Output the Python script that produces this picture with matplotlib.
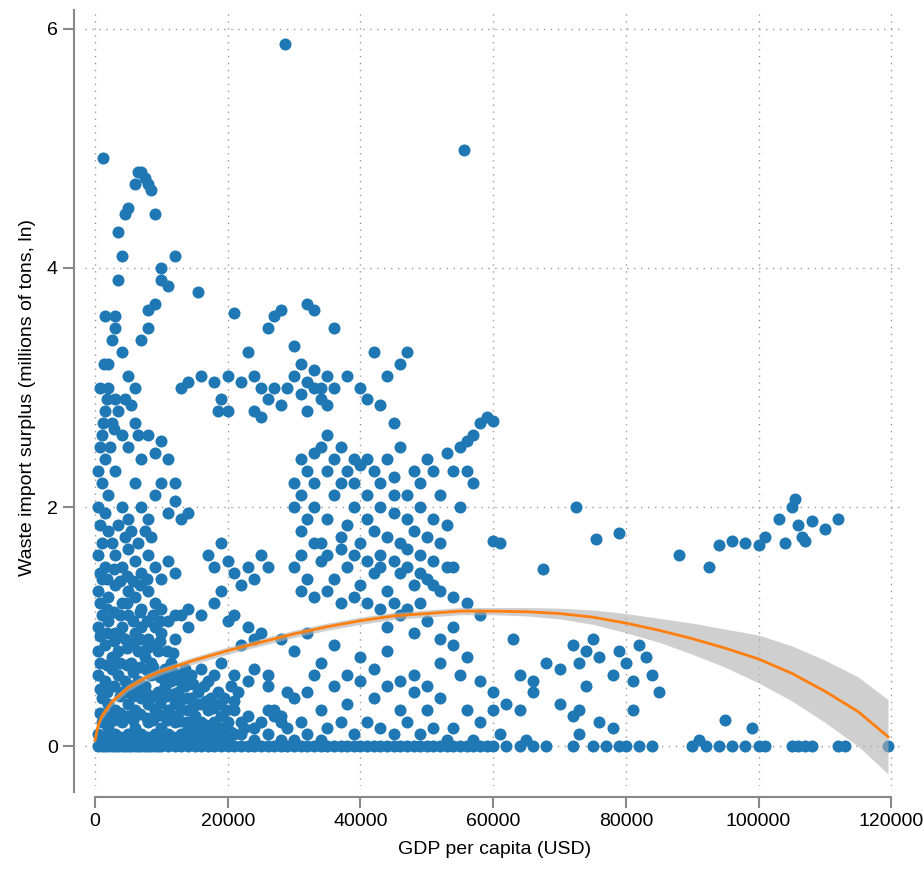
import numpy as np
import matplotlib.pyplot as plt

plt.rcParams['font.family'] = ['Liberation Sans', 'DejaVu Sans']

# points: "gdp_thousands:surplus" pairs
pts_low = """
0.5:0 1:0 1.5:0 2:0 2.5:0 3:0 3.5:0 4:0 4.5:0 5:0 5.5:0 6:0 6.5:0 7:0 7.5:0 8:0 8.5:0 9:0 9.5:0 10:0
11:0 12:0 13:0 14:0 15:0 16:0 17:0 18:0 19:0 20:0 21:0 22:0 23:0 24:0 25:0 26:0 27:0 28:0 29:0 30:0
31:0 32:0 33:0 34:0 35:0 36:0 37:0 38:0 39:0 40:0 41:0 42:0 43:0 44:0 45:0 46:0 47:0 48:0 49:0 50:0
51:0 52:0 53:0 54:0 55:0 56:0 57:0 58:0 59:0 60:0 62:0 64:0 66:0 68:0 72:0 75:0 77:0 79:0 80:0 82:0
84:0 90:0 92:0 94:0 96:0 98:0 100:0 101:0 105:0 106:0 107:0 108:0 112:0 113:0 119.5:0
0.5:0.1 1:0.2 2:0.15 3:0.1 4:0.2 5:0.1 6:0.15 7:0.1 8:0.2 9:0.1 10:0.15 11:0.1 12:0.2 13:0.1 14:0.15
15:0.1 16:0.05 17:0.1 18:0.05 19:0.1 20:0.05 22:0.1 24:0.05 26:0.1 28:0.05 30:0.05 32:0.1 34:0.05
1:0.4 2:0.35 3:0.3 4:0.45 5:0.35 6:0.3 7:0.4 8:0.35 9:0.3 10:0.4 11:0.3 12:0.35 13:0.3 14:0.3 15:0.25
16:0.2 17:0.3 18:0.2 19:0.25 20:0.2 21:0.3 22:0.2 23:0.25 24:0.15 25:0.2 26:0.3 27:0.25 28:0.2 29:0.15
0.5:0.6 1.5:0.55 2.5:0.65 3.5:0.6 4.5:0.55 5.5:0.5 6.5:0.55 7.5:0.5 8.5:0.6 9.5:0.45 10.5:0.5 11.5:0.55
12.5:0.45 13.5:0.5 14.5:0.4 15.5:0.45 16.5:0.5 17.5:0.4 18.5:0.45 19.5:0.4 20.5:0.5 21.5:0.45
0.5:0.8 1.5:0.85 2.5:0.75 3.5:0.8 4.5:0.9 5.5:0.7 6.5:0.8 7.5:0.75 8.5:0.7 9.5:0.8 10.5:0.65 11.5:0.7
12.5:0.6 13.5:0.65 14.5:0.6 16:0.65 17:0.55 18:0.6 19:0.7 21:0.6 23:0.55 24:0.65 26:0.6
0.5:1.0 1:1.1 2:1.05 3:0.95 4:1.0 5:1.1 6:0.95 7:1.0 8:0.9 9:1.0 10:0.95 11:1.05 12:0.9 13:1.1 14:1.0
0.5:1.3 1:1.4 2:1.25 3:1.35 4:1.2 5:1.3 6:1.25 7:1.15 8:1.3 9:1.2 10:1.15 12:1.1 14:1.15 16:1.1
18:1.2 20:1.05 19:1.3 21:1.1 23:1.0 25:0.95 22:0.85 24:0.9
0.5:1.6 1:1.7 1.5:1.5 2:1.8 3:1.6 4:1.5 5:1.65 6:1.55 7:1.45 8:1.6 9:1.5 10:1.4 11:1.55 12:1.45
17:1.6 18:1.5 19:1.7 20:1.55 21:1.45 22:1.35 23:1.5 24:1.4 25:1.6 26:1.5
"""

pts_dense = """
0.8:0.05 1.8:0.08 2.8:0.05 3.8:0.08 4.8:0.05 5.8:0.08 6.8:0.05 7.8:0.08 8.8:0.05 9.8:0.08 10.8:0.05
11.8:0.08 12.8:0.05 13.8:0.08 14.8:0.05 15.8:0.08 16.8:0.05 17.8:0.08 18.8:0.05 19.8:0.1 21:0.1
0.8:0.28 1.8:0.25 2.8:0.22 3.8:0.28 4.8:0.25 5.8:0.22 6.8:0.27 7.8:0.24 8.8:0.22 9.8:0.26 10.8:0.22
11.8:0.25 12.8:0.21 13.8:0.2 14.8:0.18 15.8:0.15 16.8:0.18 17.8:0.12 18.8:0.15 20.5:0.12 22.5:0.15
0.8:0.48 1.8:0.45 2.8:0.5 3.8:0.42 4.8:0.45 5.8:0.42 6.8:0.47 7.8:0.44 8.8:0.42 9.8:0.36 10.8:0.42
11.8:0.44 12.8:0.38 13.8:0.4 14.8:0.33 15.8:0.35 16.8:0.38 17.8:0.32 18.8:0.35 19.8:0.3 21:0.38
0.8:0.7 1.8:0.68 2.8:0.72 3.8:0.7 4.8:0.68 5.8:0.62 6.8:0.66 7.8:0.64 8.8:0.66 9.8:0.58 10.8:0.58
11.8:0.62 12.8:0.55 13.8:0.56 14.8:0.52 0.8:0.92 1.8:0.95 2.8:0.88 3.8:0.92 4.8:0.82 5.8:0.86
6.8:0.9 7.8:0.82 8.8:0.85 9.8:0.88 10.8:0.8 11.8:0.78 0.8:1.2 1.8:1.15 2.8:1.12 3.8:1.1 4.8:1.2
5.8:1.05 6.8:1.12 7.8:1.05 8.8:1.1 9.8:1.05 0.8:1.45 1.8:1.4 2.8:1.48 3.8:1.38 4.8:1.42 5.8:1.38
6.8:1.35 7.8:1.4 0.8:1.85 1.5:1.95 2.5:1.7 3.5:1.85 4.5:1.75 5.5:1.8 6.5:1.7 7.5:1.8 8.5:1.75
0.5:2.3 0.8:2.5 1.2:2.7 1.8:2.9 2.2:2.5 0.8:3.0 1.3:3.2 2.8:2.65 3.5:2.8 4.5:2.9 5.5:2.85 6.5:2.6
"""

pts_high = """
0.5:2.0 1:2.2 1.5:2.4 2:2.1 3:2.3 4:2.0 5:1.9 6:2.2 7:2.0 8:1.9 9:2.1 10:2.2 11:1.95 12:2.05 13:1.9 14:1.95
1:2.6 1.5:2.8 2:3.0 2.5:2.7 3:2.9 4:2.6 5:2.5 6:2.7 7:2.4 8:2.6 9:2.45 10:2.55 11:2.4 12:2.2
2:3.2 2.5:3.4 3:3.6 4:3.3 5:3.1 6:3.0 7:3.4 8:3.5 9:3.7 10:3.9 11:3.85 12:4.1 10:4.0 8:3.65
1.5:3.6 3:3.5 3.5:3.9 4:4.1 4.5:4.45 5:4.5 3.5:4.3 6:4.7 6.5:4.8 7:4.8 7.5:4.75 8:4.7 8.5:4.65 9:4.45
1.2:4.92 15.5:3.8 13:3.0 14:3.05 16:3.1 18:3.05 20:3.1 22:3.05 24:3.1 21:3.62 23:3.3 25:3.0
26:3.5 27:3.6 28:3.65 26:2.9 27:3.0 28:2.85 29:3.0 30:3.1 31:3.2 32:3.7 33:3.65 30:3.35 31:2.95 32:3.05
33:3.15 34:3.0 35:3.1 36:3.5 38:3.1 40:3.0 42:3.3 44:3.1 46:3.2 47:3.3 45:2.7 43:2.85 41:2.9
18.5:2.8 19:2.9 20:2.8 24:2.8 25:2.75 28.7:5.87 55.6:4.99
30:2.2 31:2.4 32:2.3 33:2.45 34:2.5 35:2.6 36:2.4 37:2.5 38:2.3 39:2.2 40:2.35 41:2.4 42:2.3
43:2.2 44:2.4 45:2.25 46:2.5 47:2.1 48:2.3 49:2.2 50:2.4 51:2.3 52:2.1 53:2.45 54:2.3 55:2.5
56:2.55 57:2.6 58:2.7 59:2.75 60:2.72 56:2.3 57:2.2 55:2.0
30:2.0 31:1.8 32:1.9 33:2.0 34:1.7 35:1.9 36:2.1 37:1.75 38:1.85 39:2.0 40:1.7 41:1.9 42:1.8
43:1.6 44:1.75 45:1.95 46:1.7 47:1.65 48:1.8 49:1.6 50:1.75 51:1.55 52:1.7 53:1.85 54:1.5
30:1.5 32:1.4 34:1.55 36:1.4 38:1.5 40:1.35 42:1.45 44:1.3 46:1.45 48:1.35 50:1.4 52:1.3 54:1.25
56:1.2 58:1.1 60:1.72 61:1.7 72.5:2.0 67.5:1.48 75.5:1.73 79:1.78 88:1.6 92.5:1.5 94:1.68 96:1.72 98:1.7
100:1.68 101:1.75 103:1.9 104:1.7 105:2.0 105.5:2.07 106:1.85 106.5:1.75 107:1.72 108:1.88 110:1.82 112:1.9
31:2.1 33:2.2 35:2.3 37:2.2 39:2.4 41:2.1 43:2.0 45:2.1 47:1.9 49:2.0 51:1.9 31:1.6 33:1.7 35:1.6
37:1.65 39:1.6 41:1.55 43:1.5 45:1.55 47:1.5 49:1.45 51:1.35 53:1.5 31:1.3 33:1.25 35:1.3 37:1.2
39:1.25 41:1.2 43:1.15 45:1.2 47:1.15 49:1.2 32:2.8 34:2.9 36:3.0 33:3.0 35:2.85
"""

pts_mid = """
28:0.9 30:0.8 32:0.95 34:0.7 36:0.85 38:0.6 40:0.75 42:0.65 44:0.8 46:0.55 48:0.6 50:0.5 52:0.7
54:0.85 55:0.6 56:0.75 58:0.55 60:0.45 62:0.35 64:0.6 66:0.55 68:0.7 70:0.65 72:0.85 73:0.7 74:0.8
75:0.9 76:0.75 78:0.6 79:0.8 80:0.7 82:0.85 83:0.75 84:0.6 85:0.45 81:0.55 74:0.5 73:0.3 72:0.25
70:0.35 66:0.45 63:0.9 64:0.3 60:0.3 58:0.2 56:0.3 54:0.15 52:0.4 50:0.3 48:0.45 46:0.3 44:0.5
42:0.4 40:0.55 38:0.35 36:0.5 34:0.3 32:0.45 30:0.4 28:0.25 26:0.5 27:0.3 29:0.45 31:0.2 33:0.6
35:0.15 37:0.2 39:0.1 41:0.2 43:0.15 45:0.1 47:0.2 49:0.1 51:0.15 53:0.05 57:0.05 61:0.1 65:0.05
73:0.1 76:0.2 78:0.15 81:0.3 95:0.22 99:0.15 91:0.05 44:1.0 46:1.1 48:0.95 50:1.05 52:0.9 54:1.0
"""

fit_x = [0, 500, 1000, 2500, 5000, 7500, 10000, 15000, 20000, 25000, 30000, 35000, 40000, 45000,
         50000, 55000, 60000, 65000, 70000, 75000, 80000, 85000, 90000, 95000, 100000, 105000,
         110000, 115000, 119500]
fit_y = [0.05, 0.18, 0.25, 0.37, 0.49, 0.57, 0.63, 0.72, 0.8, 0.87, 0.94, 1.0, 1.05, 1.09,
         1.11, 1.13, 1.13, 1.125, 1.11, 1.08, 1.03, 0.97, 0.9, 0.82, 0.73, 0.61, 0.46, 0.29, 0.08]
fit_half = [0.03, 0.03, 0.03, 0.03, 0.03, 0.03, 0.03, 0.03, 0.03, 0.03, 0.03, 0.03, 0.03, 0.03,
            0.03, 0.03, 0.03, 0.035, 0.045, 0.06, 0.08, 0.1, 0.13, 0.16, 0.2, 0.23, 0.26, 0.29, 0.31]


def parse(s):
    xs, ys = [], []
    for tok in s.split():
        a, b = tok.split(":")
        xs.append(float(a) * 1000)
        ys.append(float(b))
    return xs, ys


fig = plt.figure(figsize=(9.24, 8.75), dpi=100)
ax = fig.add_axes([0.092, 0.102, 0.887, 0.887])

for block in (pts_low, pts_dense, pts_mid, pts_high):
    xs, ys = parse(block)
    ax.scatter(xs, ys, s=75, color="#1f77b4", linewidths=0, zorder=2)

lo = [y - h for y, h in zip(fit_y, fit_half)]
hi = [y + h for y, h in zip(fit_y, fit_half)]
ax.fill_between(fit_x, lo, hi, color="#b0b0b0", alpha=0.6, linewidth=0, zorder=3)
ax.plot(fit_x, fit_y, color="#ff7f0e", lw=2, zorder=4)

ax.set_xlim(-1500, 122000)
ax.set_ylim(-0.33, 6.16)
ax.set_xticks([0, 20000, 40000, 60000, 80000, 100000, 120000])
ax.set_yticks([0, 2, 4, 6])
ax.grid(True, linestyle=(0, (1, 4)), color="#999999", lw=1)
for side in ("top", "right"):
    ax.spines[side].set_visible(False)
for side in ("left", "bottom"):
    ax.spines[side].set_color("#888888")
    ax.spines[side].set_linewidth(1.5)
    ax.spines[side].set_position(("outward", 8))
ax.spines["bottom"].set_bounds(0, 120000)
ax.spines["left"].set_bounds(-0.38, 6.16)
ax.tick_params(colors="#888888", labelcolor="black", labelsize=14, width=1.5, length=8)
ax.set_xlabel("GDP per capita (USD)", fontsize=14, labelpad=8)
ax.set_ylabel("Waste import surplus (millions of tons, ln)", fontsize=14, labelpad=8)

fig.savefig("out.png", dpi=100)
